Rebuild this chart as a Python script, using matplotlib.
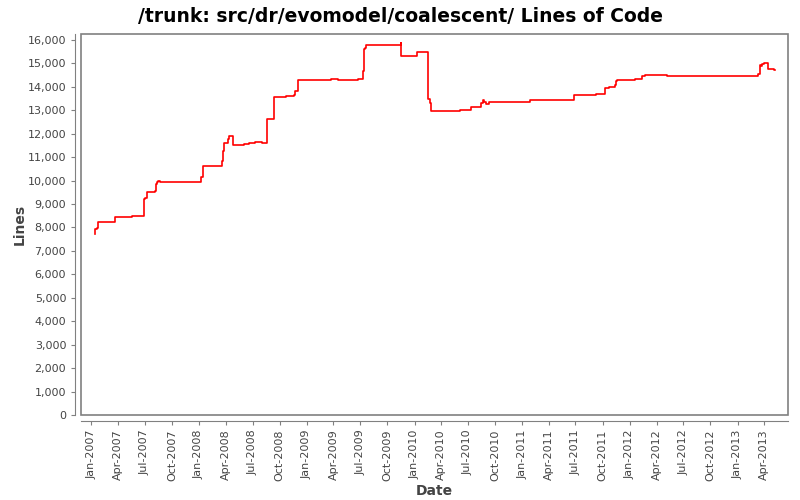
import matplotlib
matplotlib.use("Agg")
import matplotlib.pyplot as plt
import matplotlib.dates as mdates
from matplotlib.patches import Rectangle
from matplotlib.ticker import FuncFormatter, MultipleLocator
import numpy as np

# commit dates and line counts (step chart)
dates = [
    "2007-01-12", "2007-01-14", "2007-01-19", "2007-01-25", "2007-03-23", "2007-05-19",
    "2007-06-28", "2007-07-03", "2007-07-07", "2007-07-10", "2007-08-06", "2007-08-09",
    "2007-08-13", "2007-08-16", "2007-08-22", "2008-01-08", "2008-01-15", "2008-03-19",
    "2008-03-23", "2008-03-26", "2008-04-08", "2008-04-12", "2008-04-25", "2008-06-02",
    "2008-06-17", "2008-07-10", "2008-08-01", "2008-08-17", "2008-08-20", "2008-09-10",
    "2008-09-13", "2008-10-21", "2008-11-18", "2008-11-22", "2008-12-02", "2009-03-24",
    "2009-04-17", "2009-06-24", "2009-07-11", "2009-07-14", "2009-07-17", "2009-07-21",
    "2009-11-16", "2009-11-17", "2010-01-10", "2010-02-16", "2010-02-23", "2010-02-26",
    "2010-06-05", "2010-07-12", "2010-08-14", "2010-08-21", "2010-08-24", "2010-08-31",
    "2010-09-10", "2011-01-27", "2011-06-26", "2011-09-09", "2011-10-10", "2011-10-23",
    "2011-11-13", "2011-11-16", "2011-11-19", "2012-01-19", "2012-02-12", "2012-02-22",
    "2012-05-07", "2013-03-12", "2013-03-18", "2013-03-21", "2013-03-25", "2013-03-31",
    "2013-04-15", "2013-05-05", "2013-05-07",
]
lines = [
    7700, 7940, 7990, 8230, 8430, 8480,
    9200, 9260, 9360, 9500, 9570, 9870,
    9930, 9970, 9930, 10140, 10620, 10820,
    11250, 11620, 11760, 11890, 11510, 11550,
    11590, 11630, 11590, 11760, 12610, 13480,
    13550, 13600, 13640, 13810, 14280, 14320,
    14280, 14320, 14660, 15600, 15640, 15770,
    15850, 15300, 15470, 13470, 13300, 12960,
    13000, 13130, 13300, 13430, 13340, 13250,
    13340, 13430, 13640, 13680, 13940, 13980,
    14070, 14240, 14280, 14320, 14450, 14490,
    14450, 14540, 14920, 14880, 14960, 15000,
    14750, 14700, 14700,
]

title = "/trunk: src/dr/evomodel/coalescent/ Lines of Code"
text_col = "#444444"
frame_col = "#808080"

x = np.array(dates, dtype="datetime64[D]")

fig = plt.figure(figsize=(8, 5), dpi=100)
ax = fig.add_axes([0.101, 0.17, 0.884, 0.762])

ax.plot(x, lines, color="red", lw=1.2, drawstyle="steps-post")

ax.set_xlim(np.datetime64("2006-11-26"), np.datetime64("2013-06-21"))
ax.set_ylim(0, 16250)

# frame around plot area, axis lines offset outward
for s in ["top", "right"]:
    ax.spines[s].set_visible(False)
for s in ["left", "bottom"]:
    ax.spines[s].set_position(("outward", 4))
    ax.spines[s].set_color(frame_col)
ax.add_patch(Rectangle((0, 0), 1, 1, transform=ax.transAxes, fill=False,
                       edgecolor=frame_col, lw=1.2, clip_on=False))

ax.yaxis.set_major_locator(MultipleLocator(1000))
ax.yaxis.set_major_formatter(FuncFormatter(lambda v, p: f"{int(v):,}"))
ax.xaxis.set_major_locator(mdates.MonthLocator(bymonth=[1, 4, 7, 10]))
ax.xaxis.set_major_formatter(mdates.DateFormatter("%b-%Y"))
ax.tick_params(axis="both", colors=frame_col, labelcolor=text_col, labelsize=8,
               length=3, width=0.8)
ax.tick_params(axis="x", labelrotation=90)

ax.set_xlabel("Date", fontsize=10, fontweight="bold", color=text_col, va="center")
ax.set_ylabel("Lines", fontsize=10, fontweight="bold", color=text_col, va="center")
ax.xaxis.set_label_coords(0.5, -0.2)
ax.yaxis.set_label_coords(-0.086, 0.5)
fig.text(0.5, 0.968, title, fontsize=13.5, fontweight="bold", ha="center", va="center")

fig.savefig("out.png", dpi=100)
